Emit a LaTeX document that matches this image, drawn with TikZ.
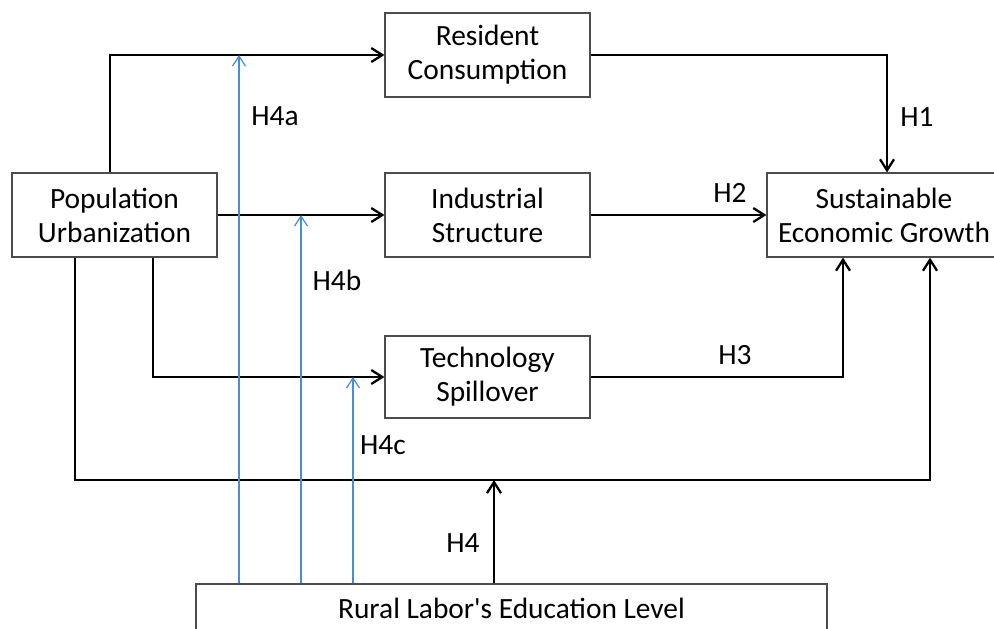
\documentclass[tikz,border=0pt]{standalone}
\usepackage{fontspec}
\setmainfont{Carlito}
\usetikzlibrary{arrows.meta}
\begin{document}
\begin{tikzpicture}[x=0.5pt,y=-0.5pt,font=\fontsize{14.7}{17}\selectfont]
\tikzstyle{box}=[draw=black!70,line width=0.6pt,align=center,inner sep=0pt,minimum width=102.5pt,minimum height=42pt]
\tikzstyle{edge}=[line width=1.15pt,-{Straight Barb[length=5.5pt,width=7pt]}]
\tikzstyle{moderator}=[modcolor,line width=0.6pt,-{Straight Barb[length=5pt,width=6.5pt]}]
\tikzstyle{hyp}=[inner sep=0pt]
\definecolor{modcolor}{RGB}{70,140,220}
\useasboundingbox (0,0) rectangle (994,628);
\node[box] (pu) at (114.5,215) {Population\\Urbanization};
\node[box] (rc) at (487.5,55) {Resident\\Consumption};
\node[box] (is) at (487.5,215) {Industrial\\Structure};
\node[box,minimum height=41pt] (ts) at (487.5,377) {Technology\\Spillover};
\node[box,minimum width=117pt] (seg) at (884,215) {Sustainable\\Economic Growth};
\node[box,minimum width=315.5pt,minimum height=24pt] (rl) at (511.5,608) {Rural Labor\textquotesingle s Education Level};
\coordinate (loop) at (75,480);
\coordinate (h4) at (494,480);
\coordinate (h4a) at (239,55);
\coordinate (h4b) at (301,215);
\coordinate (h4c) at (353,377);
\draw[edge] ([xshift=-2.25pt]pu.north) |- (rc.west);
\draw[edge] (rc.east) -| ([xshift=1.5pt]seg.north);
\draw[edge] (pu.east) -- (is.west);
\draw[edge] (is.east) -- (seg.west);
\draw[edge] ([xshift=19.25pt]pu.south) |- (ts.west);
\draw[edge] (ts.east) -| ([xshift=-20.5pt]seg.south);
\draw[edge] ([xshift=-19.75pt]pu.south) |- (loop) -| ([xshift=23pt]seg.south);
\draw[edge] (rl.north -| h4) -- (h4);
\draw[moderator] (rl.north -| h4a) -- (h4a);
\draw[moderator] (rl.north -| h4b) -- (h4b);
\draw[moderator] (rl.north -| h4c) -- (h4c);
\node[hyp] (l1) at (917,117) {H1};
\node[hyp] (l2) at (730,193) {H2};
\node[hyp] (l3) at (735,355) {H3};
\node[hyp] (l4) at (463,543) {H4};
\node[hyp] (l4a) at (275,116) {H4a};
\node[hyp] (l4b) at (337,280) {H4b};
\node[hyp] (l4c) at (383,445) {H4c};
\end{tikzpicture}
\end{document}
